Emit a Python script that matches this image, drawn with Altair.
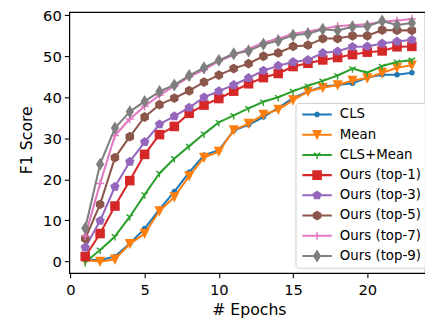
import math
import altair as alt
import pandas as pd

# ---------------- data ----------------
epochs = list(range(1, 24))
series_names = ["CLS", "Mean", "CLS+Mean", "Ours (top-1)", "Ours (top-3)",
                "Ours (top-5)", "Ours (top-7)", "Ours (top-9)"]
cls_f1 = [0.5, 0.3, 1.2, 4.4, 8.0, 12.7, 17.0, 21.7, 25.9, 27.1, 31.9, 33.3,
          35.2, 37.4, 39.8, 41.4, 42.6, 43.0, 43.4, 44.8, 45.5, 45.5, 46.0]
mean_f1 = [0.3, 0.0, 0.5, 4.3, 6.8, 12.3, 15.7, 20.8, 25.3, 26.8, 32.0, 33.6,
           35.8, 37.0, 39.3, 41.4, 42.3, 43.0, 44.1, 44.7, 46.0, 47.2, 47.8]
cls_mean_f1 = [-0.2, 2.8, 6.1, 10.9, 16.3, 21.5, 25.1, 28.1, 31.1, 33.9, 35.6, 37.3,
               38.9, 40.0, 41.5, 42.8, 44.0, 45.3, 47.0, 46.0, 47.6, 48.6, 49.1]
top1_f1 = [1.2, 6.8, 13.5, 19.7, 26.1, 30.9, 32.9, 36.1, 38.1, 39.7, 41.5, 43.3,
           44.8, 45.8, 47.5, 48.3, 49.1, 49.7, 50.4, 51.0, 51.3, 52.3, 52.4]
top3_f1 = [3.4, 9.9, 18.2, 24.3, 29.1, 33.4, 35.4, 37.5, 40.0, 41.5, 43.0, 44.7,
           46.5, 47.7, 48.6, 49.1, 50.8, 51.2, 52.3, 52.4, 53.1, 53.6, 54.0]
top5_f1 = [5.6, 13.9, 25.3, 30.4, 35.2, 38.2, 39.8, 41.6, 43.7, 45.4, 47.0, 48.2,
           50.0, 50.8, 52.4, 52.7, 54.3, 54.3, 55.0, 55.0, 56.4, 56.3, 56.3]
top7_f1 = [6.2, 19.0, 30.7, 34.7, 37.8, 40.5, 42.7, 45.0, 46.7, 48.8, 50.3, 51.8,
           53.3, 54.3, 55.5, 56.0, 56.7, 57.3, 57.6, 57.8, 58.4, 58.7, 59.1]
top9_f1 = [8.1, 23.7, 32.5, 36.5, 39.0, 41.4, 43.0, 45.3, 47.2, 49.0, 50.6, 51.3,
           52.9, 53.8, 55.1, 55.5, 56.6, 56.3, 57.2, 57.3, 58.6, 57.6, 58.1]
x_ticks = [0, 5, 10, 15, 20]
y_ticks = [0, 10, 20, 30, 40, 50, 60]

colors = ["#1f77b4", "#ff7f0e", "#2ca02c", "#d62728", "#9467bd",
          "#8c564b", "#e377c2", "#7f7f7f"]

all_values = [cls_f1, mean_f1, cls_mean_f1, top1_f1, top3_f1, top5_f1, top7_f1, top9_f1]
rows = []
for name, vals in zip(series_names, all_values):
    for e, v in zip(epochs, vals):
        rows.append({"epoch": e, "f1": v, "series": name})
df = pd.DataFrame(rows)

# ---------------- marker shapes (style) ----------------
U = 4.87                 # px per symbol unit
SYM = (2 * U) ** 2       # symbol size giving U px per unit


def _f(v):
    return f"{v / U:.3f}"


def _poly(pts):
    n = len(pts)
    area = sum(pts[i][0] * pts[(i + 1) % n][1] - pts[(i + 1) % n][0] * pts[i][1] for i in range(n))
    if area < 0:
        pts = pts[::-1]
    return "M" + "L".join(f"{_f(x)},{_f(y)}" for x, y in pts) + "Z"


def _regular(n, r, start=-90.0):
    return [(r * math.cos(math.radians(start + 360.0 * k / n)),
             r * math.sin(math.radians(start + 360.0 * k / n))) for k in range(n)]


def _bar(p0, p1, hw):
    (x0, y0), (x1, y1) = p0, p1
    dx, dy = x1 - x0, y1 - y0
    L = math.hypot(dx, dy)
    nx, ny = -dy / L * hw, dx / L * hw
    return [(x0 + nx, y0 + ny), (x1 + nx, y1 + ny), (x1 - nx, y1 - ny), (x0 - nx, y0 - ny)]


markers = [
    ("fill", [_regular(16, 2.9)]),
    ("fill", [[(-5.1, -4.9), (5.1, -4.9), (0, 5.6)]]),
    ("stroke", [((0, 0), (0, 4.17)), ((0, 0), (3.33, -2.08)), ((0, 0), (-3.33, -2.08))]),
    ("fill", [[(-4.87, -4.87), (4.87, -4.87), (4.87, 4.87), (-4.87, 4.87)]]),
    ("fill", [_regular(5, 5.0)]),
    ("fill", [_regular(6, 5.0)]),
    ("stroke", [((-4.17, 0), (4.17, 0)), ((0, -4.17), (0, 4.17))]),
    ("fill", [[(0, -6.6), (4.2, 0), (0, 6.6), (-4.2, 0)]]),
]

plot_paths = []
legend_paths = []
line_bar = _poly(_bar((-15, 0), (15, 0), 1.04))
for kind, geo in markers:
    if kind == "fill":
        p = "".join(_poly(g) for g in geo)
        plot_paths.append(p)
        legend_paths.append(line_bar + p)
    else:
        p = "".join(f"M{_f(a[0])},{_f(a[1])}L{_f(b[0])},{_f(b[1])}" for a, b in geo)
        plot_paths.append(p)
        legend_paths.append(line_bar + "".join(_poly(_bar(a, b, 0.7)) for a, b in geo))

# ---------------- chart ----------------
X = alt.X("epoch:Q",
          scale=alt.Scale(domain=[-0.086, 23.886], nice=False, zero=False),
          axis=alt.Axis(values=x_ticks, title="# Epochs", labelFlush=False, labelOverlap=False,
                        labelPadding=5.4, titleX=183.2, titleY=42.5, titleBaseline="alphabetic",
                        titleAlign="center"))
Y = alt.Y("f1:Q",
          scale=alt.Scale(domain=[-2.80, 60.79], nice=False, zero=False),
          axis=alt.Axis(values=y_ticks, title="F1 Score", labelFlush=False, labelOverlap=False,
                        labelPadding=3.1, titleX=-38, titleY=130.2, titleAngle=270,
                        titleBaseline="alphabetic", titleAlign="center"))
color_scale = alt.Scale(domain=series_names, range=colors)

leg = alt.Legend(title=None, orient="none", legendX=230.7, legendY=92.7, padding=5,
                 symbolSize=SYM, symbolStrokeWidth=0, symbolOffset=10.2, labelOffset=16.4,
                 rowPadding=5.6, labelFont="DejaVu Sans", labelFontSize=13.6, labelColor="black",
                 labelLimit=300, fillColor="rgba(255,255,255,0.8)", strokeColor="#cccccc",
                 cornerRadius=3)
C = alt.Color("series:N", scale=color_scale, legend=leg)

base = alt.Chart(df)

# legend-only layer (no rows drawn): supplies the combined line+marker legend symbols
legend_layer = base.transform_filter("false").mark_point(filled=True, opacity=1, size=SYM, strokeWidth=0).encode(
    x=X, y=Y, color=C,
    shape=alt.Shape("series:N", scale=alt.Scale(domain=series_names, range=legend_paths), legend=leg),
)
layers = [legend_layer]
for name, (kind, _), ppath in zip(series_names, markers, plot_paths):
    sub = base.transform_filter(alt.datum.series == name)
    layers.append(sub.mark_line(strokeWidth=2.08, strokeJoin="round").encode(x=X, y=Y, color=C))
    if kind == "fill":
        layers.append(sub.mark_point(shape=ppath, size=SYM, filled=True, opacity=1, strokeWidth=0)
                      .encode(x=X, y=Y, color=C))
    else:
        layers.append(sub.mark_point(shape=ppath, size=SYM, filled=False, opacity=1, strokeWidth=1.4)
                      .encode(x=X, y=Y, color=C))

chart = alt.layer(*layers).properties(
    width=362.7, height=266,
    autosize=alt.AutoSizeParams(type="none"),
    padding={"left": 62.3, "top": 1, "right": 0, "bottom": 50},
).configure_view(
    stroke="black", strokeWidth=1.1
).configure_axis(
    domainColor="black", domainWidth=1.1, tickColor="black", tickWidth=1.1, tickSize=4.9,
    labelColor="black", labelFont="DejaVu Sans", labelFontSize=15,
    titleFont="DejaVu Sans", titleFontSize=16, titleFontWeight="normal", titleColor="black",
    grid=False,
)

chart.save("out.html", embed_options={"renderer": "svg", "actions": False})
